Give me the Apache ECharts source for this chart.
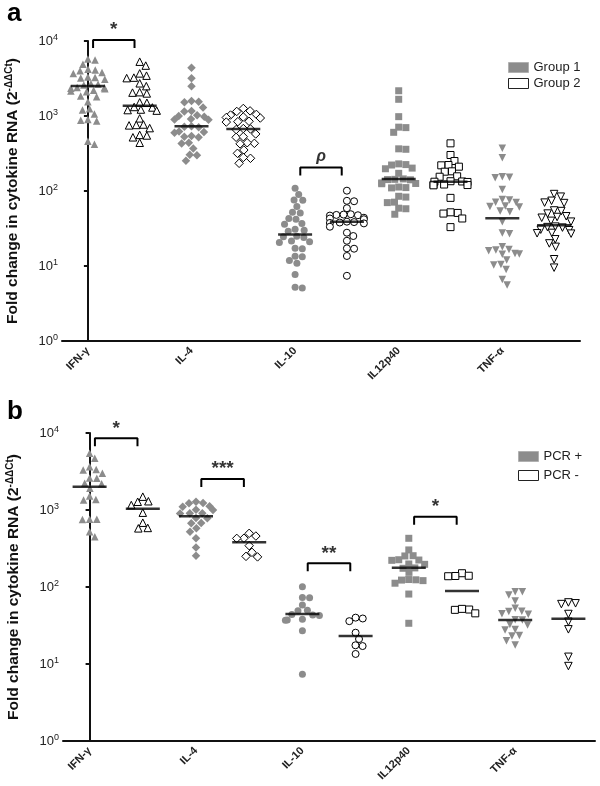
<!DOCTYPE html>
<html>
<head>
<meta charset="utf-8">
<script src="https://cdn.jsdelivr.net/npm/echarts@6/dist/echarts.min.js"></script>
<style>
html,body{margin:0;padding:0;background:#fff;}
#chart{width:600px;height:786px;}
</style>
</head>
<body>
<div id="chart"></div>
<script>
var cytokines = ['IFN-γ', 'IL-4', 'IL-10', 'IL12p40', 'TNF-α'];

// panel a : Group 1 / Group 2
var ifnA1 = [5750,5600,4900,4100,4000,4200,3700,3800,3200,3300,3100,3250,2700,2650,2600,2400,2350,2300,2380,2150,2100,2200,1850,1800,1550,1200,1250,1060,880,900,860,460,420];
var ifnA2 = [5300,4700,3700,3450,3250,3200,2730,2500,2050,2000,2080,1500,1520,1300,1320,1200,1180,1220,930,760,750,770,690,560,550,520,440];
var il4A1 = [4400,3180,2500,1550,1580,1520,1300,1170,1150,1000,1020,980,900,910,890,720,730,710,620,610,600,530,520,540,430,440,370,300,305,253];
var il4A2 = [1260,1170,1150,1030,1050,955,970,940,840,850,830,671,680,660,576,520,530,432,440,425,352,318,273,280,234];
var il10A1 = [109,90,76,75,62,51,52,42,43,36,37,30,31,29,24.6,25,24,21,20.5,21.5,17.2,17,13.3,13.5,11.8,10.9,7.7,5.2,5.1];
var il10A2 = [101,74,73,59,48,49,47,48.5,47.5,43,44,42,38,38.5,37.5,39,37,33.4,27.8,25.1,21.7,17.2,17,13.6,7.4];
var il12A1 = [2170,1670,980,710,700,606,360,365,230,225,222,202,198,172,143,145,142,141,128,126,125,113,111,110,85,83,70,71,59,58,49];
var il12A2 = [432,302,251,222,220,211,181,183,155,157,133,134,132,135,120,121,119,122,81,51,52,50,43,33];
var tnfA1 = [371,278,152,150,155,105,76,77,70,71,62,63,61,53,54,39,27,27.5,18,16.3,16,16.6,14.5,14.3,14.7,12,10.3,10.5,9,6.6,5.6];
var tnfA2 = [91,84,74,69,70,54,55,50,45,46,44,39,40,33,33.5,32.5,30,30.5,27.3,27,27.6,22.7,20,18,12.3,9.5];
var medianA = [2520,1370,728,671,26.4,39,145,133,43.3,35];
var sigPairA = [0, 4];
var sigTextA = ['*', 'ρ'];
var sigTopA = [10300, 205];

// panel b : PCR + / PCR -
var ifnB1 = [5450,4690,3650,3310,3350,3000,2580,2600,2220,2200,1910,1520,1350,1370,757,760,750,523,451];
var ifnB2 = [1490,1280,1300,1160,923,684,578,585];
var il4B1 = [1280,1220,1230,1100,1120,1000,1010,906,910,900,780,790,672,680,578,523,429,327,255];
var il4B2 = [498,459,430,428,344,282,250,246];
var il10B1 = [101,72.6,73,58.4,49.3,50,43.3,44,42.6,37.3,38,37,27,7.35];
var il10B2 = [39,36,40,25.5,21.1,17.1,17.5,13.5];
var il12B1 = [429,303,253,255,224,226,222,197,199,175,177,155,123,125,121,124,112,81,33.8];
var il12B2 = [151,139,140,138,52,51,50.5,45.5];
var tnfB1 = [87,86.9,78.7,65.8,52.9,47.9,48.5,44.2,45,37.3,37.6,32.1,32.5,27.7,28,23.1,23.5,20.1,17.7];
var tnfB2 = [61.4,63,60,44.6,35.4,28.2,12.4,9.4];
var medianB = [2010,1040,828,381,44.6,23.1,178,88.7,37.3,38.8];
var sigPairB = [0, 2, 4, 6];
var sigTextB = ['*', '***', '**', '*'];
var sigTopB = [8540, 2530, 203, 818];

var shapes = ['triangle', 'diamond', 'circle', 'rect', 'triangle'];
var shapeSize = [7.5, 8.5, 7, 7, 7.5];
var shapeRot = [0, 0, 0, 0, 180];

var gray = '#8c8c8c';

// prism-like beeswarm : offsets in px, kept inside a max spread
function swarm(vals, ppd, d, maxSpread) {
	var order = vals.map(function (v, i) { return i; }).sort(function (a, b) { return vals[b] - vals[a]; });
	var placed = [];
	var off = [];
	order.forEach(function (i) {
		var y = Math.log10(vals[i]) * ppd;
		var cands = [0];
		placed.forEach(function (p) {
			var dy = Math.abs(p.y - y);
			if (dy < d) {
				var dx = Math.sqrt(d * d - dy * dy);
				cands.push(p.x + dx, p.x - dx);
			}
		});
		cands.sort(function (a, b) { return Math.abs(a) - Math.abs(b); });
		off[i] = null;
		for (var k = 0; k < cands.length; k++) {
			var c = cands[k];
			var ok = placed.every(function (p) { return (p.x - c) * (p.x - c) + (p.y - y) * (p.y - y) >= d * d - 0.01; });
			if (ok) { off[i] = c; break; }
		}
		if (off[i] === null || Math.abs(off[i]) > maxSpread) {
			off[i] = Math.max(-maxSpread, Math.min(maxSpread, off[i] || 0));
		}
		placed.push({ x: off[i], y: y });
	});
	return off;
}

function groupData(lists, g, ppd) {
	var out = [];
	lists.forEach(function (vals, c) {
		var off = swarm(vals, ppd, 7.2, 17);
		vals.forEach(function (v, i) {
			out.push({
				value: [c * 2 + g, v],
				symbol: shapes[c],
				symbolSize: shapeSize[c],
				symbolRotate: shapeRot[c],
				symbolOffset: [off[i], 0]
			});
		});
	});
	return out;
}

function panelSeries(idx, names, g1, g2, medians, pairs, texts, tops, ppd) {
	var list = [];
	list.push({
		name: names[0], type: 'scatter', xAxisIndex: idx, yAxisIndex: idx,
		data: groupData(g1, 0, ppd),
		itemStyle: { color: gray, opacity: 1 }
	});
	list.push({
		name: names[1], type: 'scatter', xAxisIndex: idx, yAxisIndex: idx,
		data: groupData(g2, 1, ppd),
		itemStyle: { color: '#fff', borderColor: '#000', borderWidth: 1, opacity: 1 }
	});
	list.push({
		name: 'median' + idx, type: 'scatter', xAxisIndex: idx, yAxisIndex: idx, z: 5,
		symbol: 'rect', symbolSize: [34, 2.5],
		data: medians.map(function (m, i) { return [i, m]; }),
		itemStyle: { color: '#000' }
	});
	pairs.forEach(function (p, k) {
		var leg = tops[k] / Math.pow(10, 8 / ppd);
		list.push({
			name: 'bracket' + idx + '_' + k, type: 'line', xAxisIndex: idx, yAxisIndex: idx,
			clip: false, symbol: 'none', z: 4,
			lineStyle: { color: '#000', width: 2 },
			data: [[p + 0.1, leg], [p + 0.1, tops[k]], [p + 0.9, tops[k]], [p + 0.9, leg]]
		});
	});
	list.push({
		name: 'sig' + idx, type: 'scatter', xAxisIndex: idx, yAxisIndex: idx,
		clip: false, symbolSize: 1, itemStyle: { color: 'rgba(0,0,0,0)' },
		data: pairs.map(function (p, k) {
			return {
				name: texts[k], value: [p + 0.5, tops[k]],
				label: texts[k] === 'ρ' ? { fontStyle: 'italic', fontSize: 16, distance: 3 } : {}
			};
		}),
		label: {
			show: true, position: 'top', distance: 0, formatter: '{b}',
			fontSize: 19, fontWeight: 'bold', color: '#000', fontFamily: 'Liberation Sans'
		}
	});
	return list;
}

function xAx(idx) {
	return {
		type: 'value', gridIndex: idx, min: -0.5, max: 9.5, interval: 0.5,
		axisLine: { show: true, lineStyle: { color: '#111', width: 2 } },
		axisTick: { show: false },
		splitLine: { show: false },
		axisLabel: {
			rotate: 45, margin: 8, fontSize: 11, fontWeight: 'bold', color: '#222',
			fontFamily: 'Liberation Sans',
			formatter: function (v) {
				return (Math.abs(v - Math.round(v)) < 1e-6 && Math.round(v) % 2 === 0) ? cytokines[Math.round(v) / 2] : '';
			}
		}
	};
}

function yAx(idx) {
	return {
		type: 'log', logBase: 10, min: 1, max: 10000, gridIndex: idx,
		axisLine: { show: true, lineStyle: { color: '#111', width: 2 } },
		axisTick: { show: true, length: 4, lineStyle: { width: 2, color: '#111' } },
		splitLine: { show: false },
		axisLabel: {
			margin: 4, fontSize: 13, color: '#222', fontFamily: 'Liberation Sans',
			formatter: function (v) { return '10{s|' + Math.round(Math.log10(v)) + '}'; },
			rich: { s: { fontSize: 9, color: '#222', verticalAlign: 'top', padding: [0, 0, 7, 0] } }
		},
		name: 'Fold change in cytokine RNA (2{s|-ΔΔCt})',
		nameLocation: 'middle', nameGap: 40,
		nameTextStyle: {
			fontSize: 15.5, fontWeight: 'bold', color: '#111', fontFamily: 'Liberation Sans',
			rich: { s: { fontSize: 10, fontWeight: 'bold', color: '#111', verticalAlign: 'top', padding: [0, 0, 8, 0] } }
		}
	};
}

function legendFor(names, left, top, gap) {
	return {
		orient: 'vertical', left: left, top: top, itemWidth: 20, itemHeight: 10, itemGap: gap,
		selectedMode: false,
		textStyle: { fontSize: 13, color: '#222', fontFamily: 'Liberation Sans' },
		data: [
			{ name: names[0], icon: 'rect', itemStyle: { color: gray, borderColor: '#b0b0b0', borderWidth: 1 } },
			{ name: names[1], icon: 'rect', itemStyle: { color: '#fff', borderColor: '#222', borderWidth: 1 } }
		]
	};
}

var myChart = echarts.init(document.getElementById('chart'), null, { renderer: 'canvas' });

var series = []
	.concat(panelSeries(0, ['Group 1', 'Group 2'],
		[ifnA1, il4A1, il10A1, il12A1, tnfA1], [ifnA2, il4A2, il10A2, il12A2, tnfA2],
		medianA, sigPairA, sigTextA, sigTopA, 75))
	.concat(panelSeries(1, ['PCR +', 'PCR -'],
		[ifnB1, il4B1, il10B1, il12B1, tnfB1], [ifnB2, il4B2, il10B2, il12B2, tnfB2],
		medianB, sigPairB, sigTextB, sigTopB, 77));

myChart.setOption({
	animation: false,
	backgroundColor: '#fff',
	title: [
		{ text: 'a', left: 2, top: -4, textStyle: { fontSize: 26, fontWeight: 'bold', color: '#000', fontFamily: 'Liberation Sans' } },
		{ text: 'b', left: 2, top: 394, textStyle: { fontSize: 26, fontWeight: 'bold', color: '#000', fontFamily: 'Liberation Sans' } }
	],
	legend: [legendFor(['Group 1', 'Group 2'], 503, 56, 3), legendFor(['PCR +', 'PCR -'], 513, 445, 6)],
	grid: [
		{ left: 62, top: 41, width: 518, height: 300, outerBoundsMode: 'none' },
		{ left: 63, top: 433, width: 532, height: 308, outerBoundsMode: 'none' }
	],
	xAxis: [xAx(0), xAx(1)],
	yAxis: [yAx(0), yAx(1)],
	series: series
});
</script>
</body>
</html>
